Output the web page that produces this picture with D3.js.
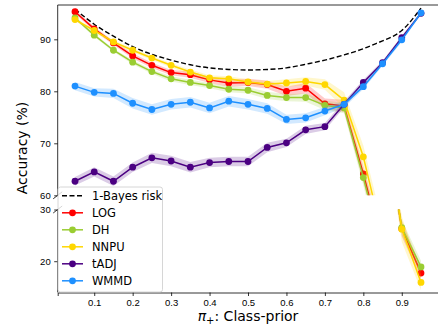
<!DOCTYPE html>
<html>
<head>
<meta charset="utf-8">
<script src="https://cdn.jsdelivr.net/npm/d3@7"></script>
<style>
  body { margin: 0; background: #fff; }
  svg { font-family: "DejaVu Sans", sans-serif; }
</style>
</head>
<body>
<div id="chart"></div>
<script>
// class prior (x) values
const classPrior = [0.05, 0.1, 0.15, 0.2, 0.25, 0.3, 0.35, 0.4, 0.45, 0.5,
                    0.55, 0.6, 0.65, 0.7, 0.75, 0.8, 0.85, 0.9, 0.95];

// accuracy (%) per method
const bayesAcc = [95.8, 92.9, 90.6, 88.6, 87.1, 86.0, 85.1, 84.5, 84.2, 84.1,
                  84.2, 84.5, 85.2, 86.0, 87.0, 88.2, 89.7, 91.7, 96.0];
const logAcc  = [95.3, 92.0, 89.3, 86.8, 85.0, 83.6, 83.2, 82.2, 81.6, 81.7,
                 81.3, 80.0, 80.6, 77.6, 77.2, 64.1, 50.0, 26.3, 17.7];
const dhAcc   = [94.1, 90.8, 87.9, 85.6, 83.8, 82.4, 81.7, 81.1, 80.4, 80.2,
                 79.2, 78.8, 78.8, 77.3, 76.8, 63.4, 49.0, 26.5, 18.9];
const nnpuAcc = [93.8, 91.7, 89.5, 87.9, 86.4, 85.0, 83.7, 82.6, 82.4, 81.8,
                 81.4, 81.6, 81.9, 81.3, 78.3, 67.4, 52.0, 26.2, 15.9];
const tadjAcc = [62.7, 64.5, 62.7, 65.4, 67.2, 66.6, 65.4, 66.3, 66.5, 66.5,
                 69.2, 70.1, 72.6, 73.2, 77.5, 81.7, 85.5, 90.3, 95.0];
const wmmdAcc = [81.0, 79.8, 79.6, 77.7, 76.5, 77.5, 77.9, 76.8, 78.1, 77.5,
                 76.7, 74.6, 74.9, 76.2, 77.5, 80.9, 85.3, 89.9, 95.1];

// spread of the shaded bands
const logStd  = [0.4, 0.4, 0.4, 0.5, 0.5, 0.5, 0.6, 0.6, 0.7, 0.7,
                 0.8, 0.9, 1.0, 1.0, 1.2, 1.5, 2.0, 1.5, 1.2];
const dhStd   = [0.3, 0.3, 0.3, 0.4, 0.4, 0.5, 0.5, 0.5, 0.6, 0.6,
                 0.7, 0.7, 0.8, 0.9, 1.0, 1.5, 2.0, 1.5, 1.2];
const nnpuStd = [0.3, 0.3, 0.3, 0.4, 0.4, 0.4, 0.5, 0.5, 0.5, 0.5,
                 0.6, 0.7, 0.8, 1.0, 1.5, 2.2, 2.5, 2.5, 1.5];
const tadjStd = [0.8, 0.9, 0.9, 0.9, 1.0, 1.0, 1.0, 0.9, 0.9, 0.9,
                 0.9, 0.8, 0.8, 0.7, 0.6, 0.5, 0.4, 0.4, 0.3];
const wmmdStd = [0.8, 0.8, 0.9, 1.0, 1.0, 1.0, 1.0, 1.0, 1.0, 1.0,
                 1.0, 0.9, 0.9, 0.8, 0.6, 0.5, 0.4, 0.4, 0.3];

const seriesNames  = ["LOG", "DH", "NNPU", "tADJ", "WMMD"];
const seriesColors = ["#ff0000", "#9acd32", "#ffd700", "#4b0082", "#1e90ff"];
const seriesValues = [logAcc, dhAcc, nnpuAcc, tadjAcc, wmmdAcc];
const seriesStd    = [logStd, dhStd, nnpuStd, tadjStd, wmmdStd];

const upperTicks = [60, 70, 80, 90];
const lowerTicks = [20, 30];
const xTicks = [0.1, 0.2, 0.3, 0.4, 0.5, 0.6, 0.7, 0.8, 0.9];

const W = 438, H = 329;
const left = 57.7, right = 438.3;

const svg = d3.select("#chart").append("svg")
    .attr("width", W)
    .attr("height", H);

const xScale = d3.scaleLinear().domain([0.005, 0.995]).range([left, right]);

// two panels of the broken axis
const panels = [
    {name: "upper", scale: d3.scaleLinear().domain([60, 96.6]).range([195.3, 5]), ticks: upperTicks},
    {name: "lower", scale: d3.scaleLinear().domain([13.95, 30]).range([292.5, 209.5]), ticks: lowerTicks}
];

const defs = svg.append("defs");

panels.forEach(panel => {
    const [y0, y1] = panel.scale.range();
    defs.append("clipPath").attr("id", "clip-" + panel.name)
        .append("rect")
        .attr("x", left).attr("y", y1)
        .attr("width", right - left).attr("height", y0 - y1);

    const g = svg.append("g").attr("clip-path", "url(#clip-" + panel.name + ")");
    const yScale = panel.scale;

    // 1-Bayes risk
    g.append("path")
        .datum(classPrior.map((p, i) => [p, bayesAcc[i]]))
        .attr("fill", "none")
        .attr("stroke", "#000")
        .attr("stroke-width", 1.4)
        .attr("stroke-dasharray", "5,2.5")
        .attr("d", d3.line().curve(d3.curveNatural)
            .x(d => xScale(d[0])).y(d => yScale(d[1])));

    seriesValues.forEach((vals, k) => {
        const color = seriesColors[k];
        const std = seriesStd[k];
        const pts = classPrior.map((p, i) => ({p: p, v: vals[i], s: std[i]}));

        g.append("path")
            .datum(pts)
            .attr("fill", color)
            .attr("fill-opacity", 0.2)
            .attr("d", d3.area()
                .x(d => xScale(d.p))
                .y0(d => yScale(d.v - d.s))
                .y1(d => yScale(d.v + d.s)));

        g.append("path")
            .datum(pts)
            .attr("fill", "none")
            .attr("stroke", color)
            .attr("stroke-width", 1.5)
            .attr("d", d3.line().x(d => xScale(d.p)).y(d => yScale(d.v)));

        g.selectAll(".dot" + k)
            .data(pts)
            .join("circle")
            .attr("cx", d => xScale(d.p))
            .attr("cy", d => yScale(d.v))
            .attr("r", 3.4)
            .attr("fill", color);
    });

    // y axis
    const yAxis = svg.append("g")
        .attr("transform", "translate(" + left + ",0)")
        .call(d3.axisLeft(yScale).tickValues(panel.ticks).tickSize(3.5).tickPadding(3.5));
    yAxis.select(".domain").remove();
    yAxis.selectAll("text").style("font-size", "9.5px").style("fill", "#000");
    yAxis.selectAll("line").attr("stroke", "#000").attr("stroke-width", 0.8);

    // left spine
    svg.append("line")
        .attr("x1", left).attr("x2", left)
        .attr("y1", y0).attr("y2", y1)
        .attr("stroke", "#000").attr("stroke-width", 0.8);

    // break marks
    const by = panel.name === "upper" ? y0 : y1;
    svg.append("line")
        .attr("x1", left - 4.5).attr("y1", by + 3.5)
        .attr("x2", left + 4.5).attr("y2", by - 3.5)
        .attr("stroke", "#000").attr("stroke-width", 0.8);
});

// top spine of upper panel
svg.append("line")
    .attr("x1", left).attr("x2", right)
    .attr("y1", 5).attr("y2", 5)
    .attr("stroke", "#000").attr("stroke-width", 0.8);

// bottom x axis
const xAxis = svg.append("g")
    .attr("transform", "translate(0,292.5)")
    .call(d3.axisBottom(xScale).tickValues(xTicks).tickFormat(d3.format(".1f")).tickSize(3.5).tickPadding(3.5));
xAxis.select(".domain").attr("stroke", "#000").attr("stroke-width", 0.8);
xAxis.selectAll("text").style("font-size", "9.5px").style("fill", "#000");
xAxis.selectAll("line").attr("stroke", "#000").attr("stroke-width", 0.8);

// axis labels
svg.append("text")
    .attr("transform", "translate(22,148) rotate(-90)")
    .attr("text-anchor", "middle")
    .attr("dominant-baseline", "central")
    .style("font-size", "14px")
    .text("Accuracy (%)");

const xLabel = svg.append("text")
    .attr("x", 248).attr("y", 321)
    .attr("text-anchor", "middle")
    .style("font-size", "14px");
xLabel.append("tspan").style("font-style", "italic").text("π");
xLabel.append("tspan").attr("dy", 3).style("font-size", "10px").text("+");
xLabel.append("tspan").attr("dy", -3).text(": Class-prior");

// legend
const legend = svg.append("g").attr("transform", "translate(58,187)");
legend.append("rect")
    .attr("x", 0).attr("y", 0)
    .attr("width", 104.5).attr("height", 105)
    .attr("rx", 2.5)
    .attr("fill", "#fff").attr("fill-opacity", 0.8)
    .attr("stroke", "#cccccc").attr("stroke-width", 0.8);

const legendItems = [{name: "1-Bayes risk", color: "#000", dashed: true}]
    .concat(seriesNames.map((n, k) => ({name: n, color: seriesColors[k], dashed: false})));

legendItems.forEach((item, i) => {
    const ly = 8.8 + i * 17;
    legend.append("line")
        .attr("x1", 4).attr("x2", 25)
        .attr("y1", ly).attr("y2", ly)
        .attr("stroke", item.color)
        .attr("stroke-width", 1.5)
        .attr("stroke-dasharray", item.dashed ? "5,2.5" : null);
    if (!item.dashed) {
        legend.append("circle")
            .attr("cx", 14.5).attr("cy", ly).attr("r", 3.4)
            .attr("fill", item.color);
    }
    legend.append("text")
        .attr("x", 34).attr("y", ly)
        .attr("dominant-baseline", "central")
        .style("font-size", "11.5px")
        .text(item.name);
});
</script>
</body>
</html>
